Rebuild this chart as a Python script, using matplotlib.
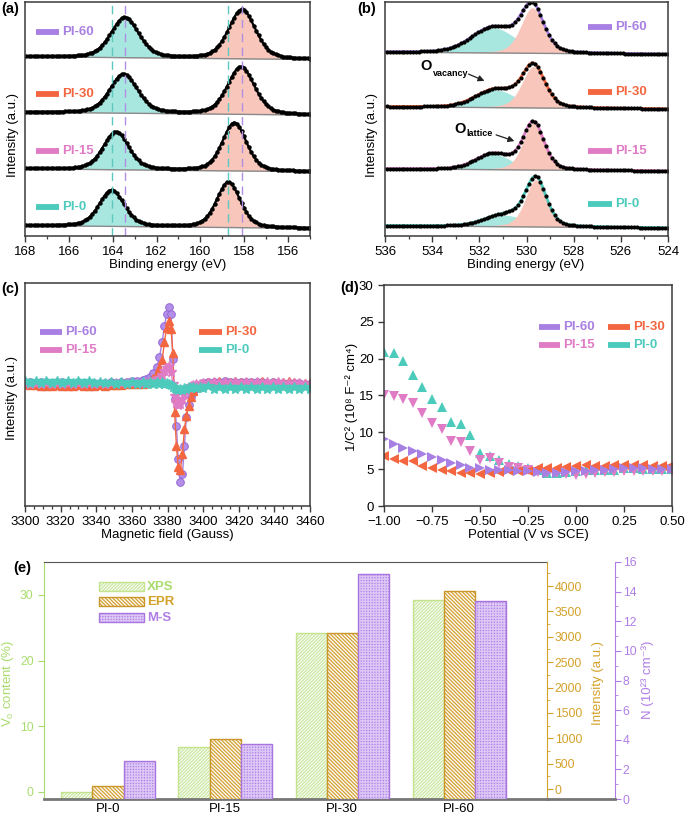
import numpy as np
import matplotlib
matplotlib.use('Agg')
import matplotlib.pyplot as plt
from matplotlib.lines import Line2D
from matplotlib.patches import Rectangle
from matplotlib.ticker import MultipleLocator

plt.rcParams['font.family'] = ['Liberation Sans', 'DejaVu Sans']
plt.rcParams['mathtext.fontset'] = 'custom'
plt.rcParams['mathtext.rm'] = 'Liberation Sans'
plt.rcParams['mathtext.bf'] = 'Liberation Sans:bold'
plt.rcParams['mathtext.it'] = 'Liberation Sans:italic'
plt.rcParams['hatch.linewidth'] = 1.0

# ---------------- data ----------------
samples = ['PI-0', 'PI-15', 'PI-30', 'PI-60']
colors = {'PI-0': '#4ccabb', 'PI-15': '#e07cc6', 'PI-30': '#f4663f', 'PI-60': '#a87fe2'}

# (a) Bi 4f fitted peaks
bi_left_center = [164.05, 163.85, 163.50, 163.45]
bi_left_height = [0.64, 0.67, 0.69, 0.71]
bi_left_fwhm = [1.35, 1.38, 1.50, 1.50]
bi_right_center = [158.72, 158.45, 158.15, 158.10]
bi_right_height = [0.80, 0.85, 0.84, 0.87]
bi_right_fwhm = [1.28, 1.30, 1.45, 1.45]
bi_offset = [0.0, 1.0, 2.0, 2.98]
bi_ref_pi0 = [164.05, 158.72]
bi_ref_pi60 = [163.45, 158.10]

# (b) O 1s fitted peaks
o_lat_center = [529.60, 529.70, 529.70, 529.75]
o_lat_height = [0.83, 0.83, 0.73, 0.80]
o_lat_fwhm = [1.05, 1.05, 1.15, 1.15]
o_vac_center = [530.90, 531.40, 531.30, 531.40]
o_vac_height = [0.20, 0.27, 0.31, 0.44]
o_vac_fwhm = [2.0, 1.8, 2.0, 2.2]
o_offset = [0.0, 1.0, 2.09, 3.05]

# (c) EPR
epr_field = [3300, 3303, 3306, 3309, 3312, 3315, 3318, 3321, 3324, 3327, 3330, 3333, 3336, 3339,
             3342, 3345, 3348, 3351, 3354, 3357, 3360, 3363,
             3366, 3368, 3370, 3372, 3374, 3375.5, 3377, 3378.3, 3379.5, 3380.8, 3382, 3383, 3384,
             3385, 3386, 3387.2, 3388.4, 3389.5, 3390.6, 3391.8, 3393, 3394.5, 3396, 3398, 3400,
             3403, 3406, 3409, 3412, 3415, 3418, 3421, 3424, 3427, 3430, 3433, 3436, 3439, 3442,
             3445, 3448, 3451, 3454, 3457, 3460]
epr_pi60 = [0.02, 0.02, 0.01, 0.02, 0.02, 0.01, 0.02, 0.02, 0.01, 0.01, 0.02, 0.01, 0.01, 0.01,
            0.01, 0.01, 0.02, 0.01, 0.02, 0.02, 0.03, 0.03,
            0.04, 0.05, 0.07, 0.11, 0.17, 0.27, 0.42, 0.58, 0.70, 0.77, 0.70, 0.25, -0.15,
            -0.42, -0.75, -0.98, -0.90, -0.62, -0.33, -0.21, -0.13, -0.08, -0.04, -0.01, 0.01,
            0.02, 0.02, 0.02, 0.03, 0.02, 0.02, 0.02, 0.02, 0.02, 0.02, 0.02, 0.01, 0.02, 0.01,
            0.01, 0.01, 0.01, 0.01, 0.00, 0.00]
epr_pi30 = [0.00, -0.01, -0.01, -0.02, -0.02, -0.02, -0.01, -0.02, -0.02, -0.02, -0.01, -0.02, -0.02, -0.02,
            -0.01, -0.02, -0.01, -0.01, -0.01, 0.00, 0.00, 0.00,
            0.00, 0.01, 0.03, 0.06, 0.10, 0.16, 0.24, 0.42, 0.56, 0.63, 0.55, 0.31, -0.28,
            -0.62, -0.83, -0.86, -0.70, -0.45, -0.32, -0.22, -0.13, -0.07, -0.03, 0.00, 0.01,
            0.02, 0.02, 0.03, 0.02, 0.02, 0.03, 0.02, 0.02, 0.02, 0.02, 0.03, 0.02, 0.02, 0.02,
            0.02, 0.03, 0.02, 0.01, 0.01, 0.01]
epr_pi15 = [0.01, 0.00, 0.01, 0.00, 0.01, 0.00, 0.01, 0.00, 0.01, 0.00, 0.01, 0.00, 0.01, 0.00,
            0.01, 0.00, 0.01, 0.01, 0.01, 0.01, 0.01, 0.01,
            0.01, 0.01, 0.02, 0.03, 0.04, 0.06, 0.09, 0.13, 0.16, 0.18, 0.12, 0.00, -0.12,
            -0.19, -0.21, -0.20, -0.15, -0.10, -0.07, -0.04, -0.02, -0.01, 0.00, 0.00, 0.01,
            0.01, 0.02, 0.01, 0.02, 0.01, 0.02, 0.01, 0.02, 0.01, 0.02, 0.01, 0.02, 0.01, 0.02,
            0.01, 0.01, 0.01, 0.01, 0.00, 0.00]
epr_pi0 = [0.03, 0.01, 0.03, 0.01, 0.03, 0.01, 0.03, 0.01, 0.03, 0.01, 0.03, 0.01, 0.03, 0.01,
           0.02, 0.01, 0.02, 0.00, 0.02, 0.00, 0.02, 0.00,
           0.02, 0.00, 0.02, 0.00, 0.02, 0.00, 0.02, 0.00, 0.01, 0.00, -0.01, -0.03, -0.04,
           -0.05, -0.06, -0.05, -0.06, -0.04, -0.05, -0.03, -0.04, -0.03, -0.04, -0.03, -0.04,
           -0.02, -0.05, -0.03, -0.05, -0.03, -0.05, -0.03, -0.05, -0.03, -0.05, -0.03, -0.05, -0.03, -0.05,
           -0.03, -0.05, -0.03, -0.05, -0.03, -0.05]

# (d) Mott-Schottky
ms_potential = [-1.00, -0.95, -0.90, -0.85, -0.80, -0.75, -0.70, -0.65, -0.60, -0.55, -0.50,
                -0.45, -0.40, -0.35, -0.30, -0.25, -0.20, -0.15, -0.10, -0.05, 0.00,
                0.05, 0.10, 0.15, 0.20, 0.25, 0.30, 0.35, 0.40, 0.45, 0.50]
ms_pi0 = [20.9, 20.8, 19.7, 17.8, 16.1, 14.5, 13.4, 11.4, 11.1, 9.6, 7.2,
          6.8, 6.3, 5.7, 5.4, 5.2, 4.9, 4.5, 4.5, 4.6, 4.8,
          4.9, 4.9, 4.9, 4.9, 5.1, 5.1, 5.0, 5.0, 5.0, 5.0]
ms_pi15 = [15.0, 14.9, 14.5, 14.0, 12.6, 11.3, 10.4, 8.8, 8.7, 7.4, 6.3,
           6.5, 5.8, 5.3, 5.2, 4.9, 4.6, 4.5, 4.5, 4.3, 4.2,
           4.4, 4.5, 4.6, 4.6, 4.8, 4.8, 4.8, 4.8, 4.7, 4.8]
ms_pi30 = [6.8, 6.4, 6.1, 6.1, 5.4, 5.2, 4.9, 4.8, 4.5, 4.5, 4.3,
           4.5, 4.6, 4.7, 4.8, 4.8, 5.1, 5.2, 5.2, 5.3, 5.4,
           5.5, 5.4, 5.4, 5.5, 5.5, 5.5, 5.5, 5.4, 5.4, 5.5]
ms_pi60 = [9.1, 8.4, 7.9, 7.5, 7.0, 6.6, 6.2, 5.9, 5.5, 5.2, 5.1,
           4.9, 4.9, 4.9, 4.8, 4.8, 4.6, 4.5, 4.5, 4.6, 4.8,
           4.8, 4.9, 4.9, 5.0, 5.1, 5.1, 5.1, 5.0, 5.0, 5.0]

# (e) vacancy summary
vo_xps = [0.0, 6.8, 24.2, 29.2]          # %
vo_epr = [60, 985, 3068, 3895]           # a.u.
vo_ms = [2.57, 3.71, 15.17, 13.37]       # 10^23 cm^-3

# ---------------- layout helpers ----------------
W, H = 685, 821
fig = plt.figure(figsize=(W / 100, H / 100), dpi=100)
FS = 9.5
SPINE = '#3a3a3a'


def box(x0, y0, x1, y1):
    return [x0 / W, 1 - y1 / H, (x1 - x0) / W, (y1 - y0) / H]


def fx(px):
    return px / W


def fy(py):
    return 1 - py / H


def pv(x, c, h, fwhm, eta=0.3):
    s = fwhm / 2.3548
    g = np.exp(-0.5 * ((x - c) / s) ** 2)
    l = 1.0 / (1.0 + ((x - c) / (fwhm / 2)) ** 2)
    return h * (eta * l + (1 - eta) * g)


def style(ax):
    for s in ax.spines.values():
        s.set_color(SPINE)
        s.set_linewidth(1.1)
    ax.tick_params(direction='out', labelsize=FS, length=4, width=1, color=SPINE)
    ax.tick_params(which='minor', direction='out', length=2.5, width=0.9, color=SPINE)


def legend_items(ax, bx, items):
    x0b, y0b, x1b, y1b = bx
    for lab, a, b, t, y in items:
        ya = (y1b - y) / (y1b - y0b)
        ax.plot([(a - x0b) / (x1b - x0b), (b - x0b) / (x1b - x0b)], [ya, ya],
                transform=ax.transAxes, color=colors[lab], lw=4.2, clip_on=False,
                solid_capstyle='butt')
        ax.text((t - x0b) / (x1b - x0b), ya, lab, transform=ax.transAxes, color=colors[lab],
                fontsize=FS, fontweight='bold', va='center', ha='left')


FILL_T = '#a8e6e0'
FILL_P = '#f8c6ba'

# ---------------- (a) ----------------
bxa = (25, 2, 310, 236)
axa = fig.add_axes(box(*bxa))
style(axa)
x = np.linspace(155, 168, 700)
for i, s in enumerate(samples):
    base = bi_offset[i] + 0.025 * (x - 161.5) / 6.5
    pl = pv(x, bi_left_center[i], bi_left_height[i], bi_left_fwhm[i], eta=0.35)
    pr = pv(x, bi_right_center[i], bi_right_height[i], bi_right_fwhm[i], eta=0.35)
    axa.fill_between(x, base, base + pl, color=FILL_T, lw=0)
    axa.fill_between(x, base, base + pr, color=FILL_P, lw=0)
    axa.plot(x, base, color='#8a8a8a', lw=1.0)
    env = base + pl + pr
    axa.plot(x, env, color='black', lw=1.6)
    axa.plot(x[::6], env[::6], 'o', color='black', ms=2.2)
for v in bi_ref_pi0:
    axa.axvline(v, color='#5cc8c0', lw=1.0, ls=(0, (6, 4)))
for v in bi_ref_pi60:
    axa.axvline(v, color='#b08fe3', lw=1.0, ls=(0, (6, 4)))
axa.set_xlim(168, 155)
axa.set_ylim(-0.16, 3.97)
axa.set_yticks([])
axa.xaxis.set_major_locator(MultipleLocator(2))
axa.xaxis.set_minor_locator(MultipleLocator(1))
legend_items(axa, bxa, [('PI-60', 36, 59, 62, 32), ('PI-30', 36, 59, 62, 94),
                        ('PI-15', 36, 59, 62, 151), ('PI-0', 36, 59, 62, 207)])

# ---------------- (b) ----------------
bxb = (385, 2, 668, 236)
axb = fig.add_axes(box(*bxb))
style(axb)
x = np.linspace(524, 536, 700)
for i, s in enumerate(samples):
    base = o_offset[i] + 0.02 * (x - 530) / 6
    pv_ = pv(x, o_vac_center[i], o_vac_height[i], o_vac_fwhm[i], eta=0.2)
    pl_ = pv(x, o_lat_center[i], o_lat_height[i], o_lat_fwhm[i], eta=0.35)
    axb.fill_between(x, base, base + pv_, color=FILL_T, lw=0)
    axb.fill_between(x, base, base + pl_, color=FILL_P, lw=0)
    axb.plot(x, base, color='#8a8a8a', lw=1.0)
    env = base + pv_ + pl_
    axb.plot(x, env, color=colors[s], lw=2.0)
    axb.plot(x[::7], env[::7], 'o', color='black', ms=2.0)
axb.set_xlim(536, 524)
axb.set_ylim(-0.16, 3.95)
axb.set_yticks([])
axb.xaxis.set_major_locator(MultipleLocator(2))
axb.xaxis.set_minor_locator(MultipleLocator(1))
legend_items(axb, bxb, [('PI-60', 588, 612, 615, 27), ('PI-30', 588, 612, 615, 92),
                        ('PI-15', 588, 612, 615, 151), ('PI-0', 588, 612, 615, 204)])
arrow_kw = dict(arrowstyle='-|>', color='#222222', lw=0.9, mutation_scale=9)
axb.annotate('', xy=(531.675, 2.545), xytext=(532.565, 2.703), arrowprops=arrow_kw)
axb.text(534.52, 2.756, 'O', fontsize=10.5, fontweight='bold', ha='left', va='baseline')
axb.text(533.97, 2.650, 'vacancy', fontsize=6.5, fontweight='bold', ha='left', va='baseline')
axb.annotate('', xy=(530.403, 1.491), xytext=(531.40, 1.632), arrowprops=arrow_kw)
axb.text(533.074, 1.649, 'O', fontsize=10.5, fontweight='bold', ha='left', va='baseline')
axb.text(532.54, 1.596, 'lattice', fontsize=6.5, fontweight='bold', ha='left', va='baseline')

# ---------------- (c) ----------------
bxc = (25, 283, 310, 506)
axc = fig.add_axes(box(*bxc))
style(axc)
axc.plot(epr_field, epr_pi60, '-o', color=colors['PI-60'], lw=1.0, ms=5.5,
         mfc='#b48fe8', mec='#9467d6', mew=0.7)
axc.plot(epr_field, epr_pi30, '-^', color=colors['PI-30'], lw=1.0, ms=5.5)
axc.plot(epr_field, epr_pi15, '-*', color=colors['PI-15'], lw=1.0, ms=7)
axc.plot(epr_field, epr_pi0, '-*', color=colors['PI-0'], lw=1.0, ms=7)
axc.set_xlim(3300, 3460)
axc.set_ylim(-1.22, 1.01)
axc.set_yticks([])
axc.xaxis.set_major_locator(MultipleLocator(20))
axc.xaxis.set_minor_locator(MultipleLocator(5))
legend_items(axc, bxc, [('PI-60', 40, 62, 65, 332), ('PI-15', 40, 62, 65, 350),
                        ('PI-30', 199, 222, 225, 332), ('PI-0', 199, 222, 225, 350)])

# ---------------- (d) ----------------
bxd = (384, 285, 672, 506)
axd = fig.add_axes(box(*bxd))
style(axd)
axd.plot(ms_potential, ms_pi0, '^', color=colors['PI-0'], ms=7, mew=0)
axd.plot(ms_potential, ms_pi15, 'v', color=colors['PI-15'], ms=7, mew=0)
axd.plot(ms_potential, ms_pi30, '<', color=colors['PI-30'], ms=7, mew=0)
axd.plot(ms_potential, ms_pi60, '>', color=colors['PI-60'], ms=7, mew=0)
axd.set_xlim(-1.0, 0.5)
axd.set_ylim(0, 30)
axd.xaxis.set_major_locator(MultipleLocator(0.25))
axd.yaxis.set_major_locator(MultipleLocator(5))
axd.xaxis.set_major_formatter(matplotlib.ticker.FuncFormatter(
    lambda v, p: ('\u2212' if v < -1e-9 else '') + f'{abs(v):.2f}'))
legend_items(axd, bxd, [('PI-60', 539, 560, 563, 327), ('PI-15', 539, 560, 563, 345),
                        ('PI-30', 608, 630, 633, 327), ('PI-0', 608, 630, 633, 345)])

# axis labels a-d
fig.text(fx(13), fy(135), 'Intensity (a.u.)', rotation=90, ha='center', va='center', fontsize=FS)
fig.text(fx(372), fy(135), 'Intensity (a.u.)', rotation=90, ha='center', va='center', fontsize=FS)
fig.text(fx(12), fy(398), 'Intensity (a.u.)', rotation=90, ha='center', va='center', fontsize=FS)
fig.text(fx(352), fy(397), '1/C\u00b2 (10\u2078 F\u207b\u00b2 cm\u2074)', rotation=90, ha='center',
         va='center', fontsize=FS)
fig.text(fx(168), fy(265), 'Binding energy (eV)', ha='center', va='center', fontsize=FS)
fig.text(fx(526), fy(265), 'Binding energy (eV)', ha='center', va='center', fontsize=FS)
fig.text(fx(167), fy(535), 'Magnetic field (Gauss)', ha='center', va='center', fontsize=FS)
fig.text(fx(528), fy(535), 'Potential (V vs SCE)', ha='center', va='center', fontsize=FS)
for lab, px, py in [('(a)', 1, 9), ('(b)', 357, 9), ('(c)', 1, 289), ('(d)', 340, 288), ('(e)', 13, 568)]:
    fig.text(fx(px), fy(py), lab, ha='left', va='center', fontsize=10.5, fontweight='bold')

# ---------------- (e) ----------------
GREEN = '#a9dc6e'
GOLD = '#d4a12a'
PURP = '#b07ee6'
FSE = 8.8
bxe = (44, 562, 547, 799)
axe = fig.add_axes(box(*bxe))
axg = axe.twinx()
axp = axe.twinx()
axp.spines['right'].set_position(('axes', (615 - 44) / 503))

y0, g0 = -1.07, -197
axe.set_ylim(y0, 35.0)
axg.set_ylim(g0, 4473)
axp.set_ylim(0, 16)
xpos = np.arange(len(samples))
bw = 0.265
axe.set_xlim(-0.547, 3.752)

H_XPS = '/' * 10
H_EPR = '\\' * 9
H_MS = '+' * 6
XPS_HC, XPS_EC = '#cde8a5', '#c3e38c'
EPR_HC, EPR_EC = '#d6a53c', '#c9962a'
MS_FC, MS_HC, MS_EC = '#b283e6', '#dcc6f5', '#a874e0'
xps_h = np.array(vo_xps) - y0
epr_h = np.array(vo_epr) - g0
axe.bar(xpos - bw, xps_h, bottom=y0, width=bw, facecolor='white', edgecolor=XPS_HC,
        hatch=H_XPS, lw=0)
axe.bar(xpos - bw, xps_h, bottom=y0, width=bw, fill=False, edgecolor=XPS_EC, lw=1.0)
axg.bar(xpos, epr_h, bottom=g0, width=bw, facecolor='white', edgecolor=EPR_HC,
        hatch=H_EPR, lw=0)
axg.bar(xpos, epr_h, bottom=g0, width=bw, fill=False, edgecolor=EPR_EC, lw=1.0)
axp.bar(xpos + bw, vo_ms, width=bw, facecolor=MS_FC, edgecolor=MS_HC, hatch=H_MS, lw=0)
axp.bar(xpos + bw, vo_ms, width=bw, fill=False, edgecolor=MS_EC, lw=1.0)

for a in (axe, axg, axp):
    for s in a.spines.values():
        s.set_visible(False)
axe.spines['left'].set_visible(True)
axe.spines['left'].set_color(GREEN)
axe.spines['top'].set_visible(True)
axe.spines['top'].set_color('#555555')
axe.spines['bottom'].set_visible(True)
axe.spines['bottom'].set_color('#777777')
axe.spines['bottom'].set_linewidth(2.0)
axg.spines['right'].set_visible(True)
axg.spines['right'].set_color(GOLD)
axp.spines['right'].set_visible(True)
axp.spines['right'].set_color(PURP)
fig.add_artist(Line2D([fx(547), fx(615)], [fy(799), fy(799)], color='#777777', lw=2.0))

axe.set_yticks([0, 10, 20, 30])
axe.tick_params(axis='y', direction='out', colors=GREEN, labelsize=FSE, length=4)
axe.set_xticks(xpos)
axe.set_xticklabels(samples, fontsize=FSE + 0.7)
axe.tick_params(axis='x', length=0, pad=3)
axg.set_yticks(np.arange(0, 4001, 500))
axg.yaxis.set_minor_locator(MultipleLocator(250))
axg.tick_params(axis='y', which='both', direction='out', colors=GOLD, labelsize=FSE, length=4, pad=1.5)
axg.tick_params(axis='y', which='minor', length=2.5)
axp.yaxis.set_major_locator(MultipleLocator(2))
axp.yaxis.set_minor_locator(MultipleLocator(1))
axp.tick_params(axis='y', which='both', direction='out', colors=PURP, labelsize=FSE, length=4, pad=1.5)
axp.tick_params(axis='y', which='minor', length=2.5)

fig.text(fx(8), fy(683), 'V$_\\mathrm{o}$ content (%)', rotation=90, ha='center', va='center',
         fontsize=FSE + 0.7, color=GREEN)
fig.text(fx(598), fy(683), 'Intensity (a.u.)', rotation=90, ha='center', va='center',
         fontsize=FSE + 0.7, color=GOLD)
fig.text(fx(648), fy(680), 'N (10\u00b2\u00b3 cm\u207b\u00b3)', rotation=90, ha='center', va='center',
         fontsize=FSE + 0.7, color=PURP)

# legend (e)
leg = [('XPS', GREEN, dict(facecolor='white', edgecolor=XPS_HC, hatch=H_XPS), XPS_EC, 582),
       ('EPR', GOLD, dict(facecolor='white', edgecolor=EPR_HC, hatch=H_EPR), EPR_EC, 597),
       ('M-S', PURP, dict(facecolor=MS_FC, edgecolor=MS_HC, hatch=H_MS), MS_EC, 613)]
for lab, col, kw, ec, ytop in leg:
    fig.add_artist(Rectangle((fx(99), fy(ytop + 9)), (144 - 99) / W, 9 / H,
                             transform=fig.transFigure, lw=0, **kw))
    fig.add_artist(Rectangle((fx(99), fy(ytop + 9)), (144 - 99) / W, 9 / H,
                             transform=fig.transFigure, fill=False, edgecolor=ec, lw=1.0))
    fig.text(fx(147), fy(ytop + 4.5), lab, ha='left', va='center', fontsize=FSE + 0.7,
             fontweight='bold', color=col)

fig.savefig('out.png', dpi=100)
